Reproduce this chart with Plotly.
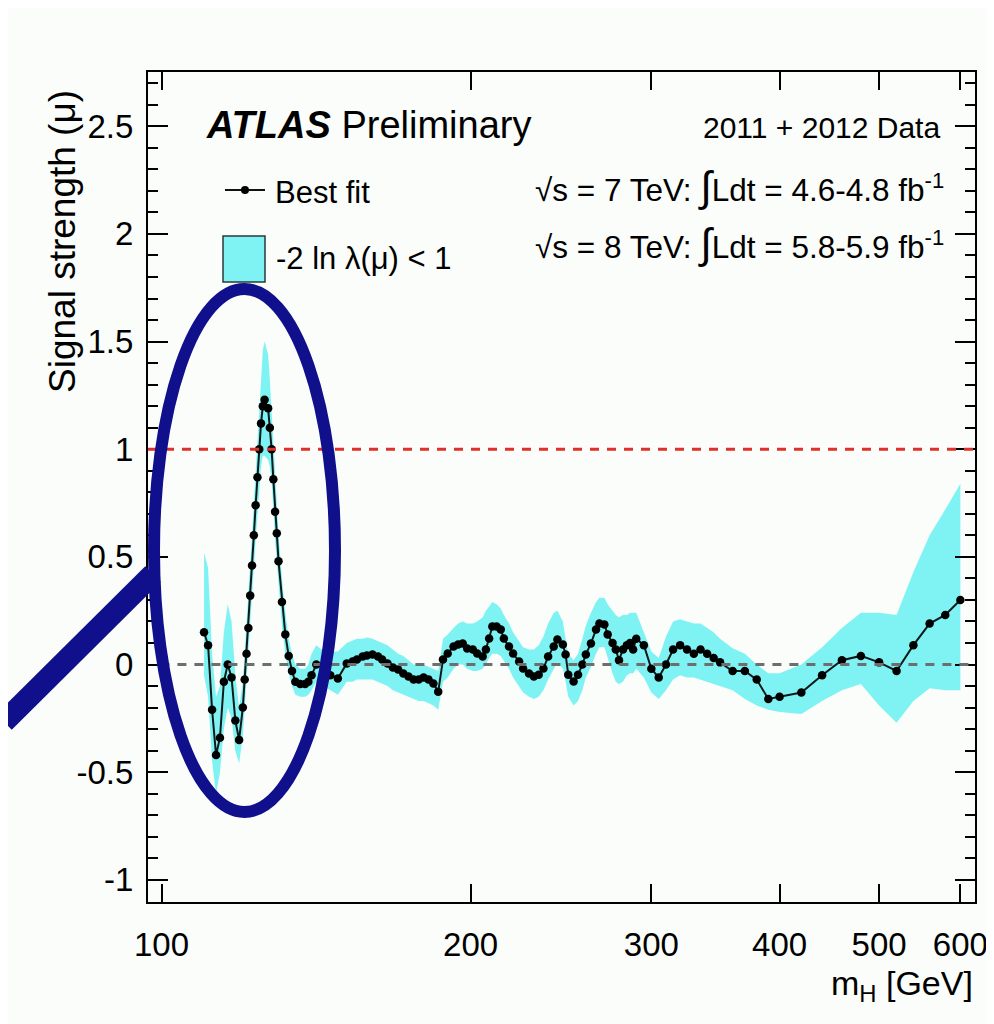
import plotly.graph_objects as go

FONT = "Liberation Sans"

mass = [110, 111, 112, 113, 114, 115, 116, 117, 118, 119, 120, 120.5, 121, 121.5, 122, 122.5,
        123, 123.5, 124, 124.5, 125, 125.5, 126, 127, 127.5, 128, 128.5, 129, 129.5, 130,
        131, 132, 133, 134, 135, 136.5, 138, 139, 140, 141.5, 144, 146, 148.5, 151.5, 153.5,
        155, 157, 158.5, 160.5, 162.5, 164, 166, 168, 170, 172, 174, 176, 178, 180, 182, 184,
        186, 188, 190, 192.5, 194.5, 196.5, 198.5, 201, 203, 205.5, 207, 208.5, 210, 212, 214,
        215.5, 218, 220, 223, 225, 228, 230.5, 233, 235.5, 238, 241, 243, 246, 247.5, 249, 252,
        254.5, 257, 259, 262, 265, 267, 270, 272, 275, 277, 279, 281.5, 284, 286, 288, 290,
        295, 300, 305, 310, 315, 320, 325, 330, 335, 340, 345, 350, 360, 370, 380, 390, 400,
        420, 440, 460, 480, 500, 520, 540, 560, 580, 600]

mu_best = [0.15, 0.09, -0.21, -0.42, -0.34, -0.08, 0.00, -0.06, -0.26, -0.35, -0.20, -0.07,
           0.05, 0.17, 0.32, 0.46, 0.60, 0.74, 0.87, 1.00, 1.12, 1.20, 1.23, 1.19, 1.10, 1.00,
           0.86, 0.71, 0.61, 0.48, 0.29, 0.14, 0.04, -0.03, -0.08, -0.09, -0.09, -0.08, -0.05,
           0.00, -0.02, -0.05, -0.065, 0.005, 0.014, 0.023, 0.037, 0.042, 0.047, 0.037, 0.023,
           0.005, -0.014, -0.023, -0.042, -0.056, -0.07, -0.07, -0.06, -0.07, -0.088, -0.126,
           0.023, 0.051, 0.084, 0.093, 0.098, 0.074, 0.07, 0.051, 0.037, 0.07, 0.121, 0.177,
           0.177, 0.163, 0.121, 0.084, 0.051, 0.014, -0.019, -0.042, -0.056, -0.047, -0.019,
           0.037, 0.084, 0.116, 0.093, 0.047, -0.047, -0.079, -0.047, 0.0, 0.047, 0.098, 0.163,
           0.19, 0.186, 0.14, 0.10, 0.07, 0.02, 0.07, 0.09, 0.10, 0.07, 0.12, 0.09, -0.02,
           -0.06, 0.0, 0.07, 0.09, 0.07, 0.05, 0.07, 0.05, 0.03, 0.01, -0.03, -0.03, -0.07,
           -0.16, -0.15, -0.13, -0.05, 0.02, 0.04, 0.01, -0.03, 0.09, 0.19, 0.23, 0.30]

band_lo = [-0.05, -0.15, -0.45, -0.60, -0.50, -0.30, -0.20, -0.25, -0.40, -0.46, -0.33, -0.20,
           -0.08, 0.04, 0.18, 0.32, 0.45, 0.58, 0.70, 0.82, 0.92, 0.97, 0.97, 0.95, 0.92, 0.85,
           0.72, 0.58, 0.48, 0.36, 0.18, 0.05, -0.04, -0.10, -0.14, -0.15, -0.15, -0.14, -0.12,
           -0.08, -0.10, -0.12, -0.14, -0.08, -0.08, -0.07, -0.07, -0.07, -0.07, -0.08, -0.09,
           -0.10, -0.12, -0.13, -0.14, -0.15, -0.16, -0.17, -0.17, -0.18, -0.19, -0.21,
           -0.08, -0.06, -0.02, 0.00, 0.00, -0.02, -0.03, -0.03, -0.02, 0.00, 0.03, 0.05,
           0.05, 0.04, 0.02, -0.02, -0.06, -0.10, -0.13, -0.15, -0.16, -0.15, -0.12,
           -0.07, -0.02, 0.01, -0.02, -0.08, -0.15, -0.19, -0.17, -0.12, -0.06, -0.01, 0.05,
           0.08, 0.08, 0.03, -0.04, -0.08, -0.09, -0.08, -0.05, -0.04, -0.04, -0.02, -0.06, -0.13,
           -0.16, -0.12, -0.07, -0.05, -0.06, -0.06, -0.07, -0.08, -0.09, -0.10, -0.12, -0.16, -0.19,
           -0.21, -0.22, -0.23, -0.17, -0.12, -0.09, -0.19, -0.27, -0.17, -0.11, -0.12, -0.12]

band_hi = [0.52, 0.45, 0.05, -0.15, -0.10, 0.15, 0.28, 0.20, -0.05, -0.20, -0.08, 0.05,
           0.18, 0.30, 0.46, 0.60, 0.75, 0.90, 1.05, 1.20, 1.36, 1.46, 1.50, 1.44, 1.32, 1.18,
           1.02, 0.86, 0.75, 0.61, 0.40, 0.24, 0.12, 0.05, 0.00, -0.02, -0.02, 0.00, 0.05,
           0.09, 0.06, 0.06, 0.06, 0.10, 0.11, 0.12, 0.12, 0.125, 0.12, 0.11, 0.10,
           0.09, 0.07, 0.05, 0.04, 0.02, 0.00, 0.00, 0.00, -0.01, -0.02, -0.03,
           0.12, 0.14, 0.17, 0.19, 0.20, 0.19, 0.19, 0.20, 0.22, 0.25, 0.27, 0.29,
           0.28, 0.26, 0.23, 0.19, 0.15, 0.11, 0.08, 0.07, 0.07, 0.09, 0.13,
           0.19, 0.24, 0.25, 0.20, 0.12, 0.05, 0.02, 0.05, 0.12, 0.18, 0.24, 0.29,
           0.31, 0.31, 0.28, 0.25, 0.23, 0.22, 0.23, 0.23, 0.24, 0.24, 0.24, 0.15, 0.06,
           0.03, 0.13, 0.20, 0.21, 0.20, 0.19, 0.19, 0.17, 0.15, 0.12, 0.075, 0.05, 0.00,
           -0.04, -0.04, 0.00, 0.08, 0.17, 0.24, 0.24, 0.23, 0.43, 0.60, 0.72, 0.84]

x_tick_vals = [100, 200, 300, 400, 500, 600]
x_tick_text = ["100", "200", "300", "400", "500", "600"]
y_tick_vals = [-1, -0.5, 0, 0.5, 1, 1.5, 2, 2.5]
y_tick_text = ["-1", "-0.5", "0", "0.5", "1", "1.5", "2", "2.5"]

# layout geometry (page pixels; the page body adds an 8px offset)
OFF = 8
W, H = 994 - OFF, 1024 - OFF
X0, X1, Y0, Y1 = 148, 975, 72, 902          # plot frame on the page
L, R, T, B = X0 - OFF, 994 - X1, Y0 - OFF, 1024 - Y1
PW, PH = X1 - X0, Y1 - Y0


def px(xp):
    return (xp - X0) / PW


def py(yp):
    return (Y1 - yp) / PH


fig = go.Figure()

fig.add_trace(go.Scatter(
    x=mass + mass[::-1], y=band_hi + band_lo[::-1],
    fill="toself", fillcolor="#7ff3f3", mode="lines",
    line=dict(width=0, color="#7ff3f3"),
    name="-2 ln λ(μ) < 1", hoverinfo="skip", showlegend=False))

fig.add_trace(go.Scatter(
    x=mass, y=mu_best, mode="lines+markers",
    line=dict(color="#0d1a1a", width=2),
    marker=dict(color="#000000", size=8.5),
    name="Best fit", showlegend=False))

# reference lines at mu = 1 and mu = 0
fig.add_shape(type="line", xref="paper", x0=0, x1=1, yref="y", y0=1, y1=1,
              line=dict(color="#e0302a", width=3, dash="9px,8px"), layer="above")
fig.add_shape(type="line", xref="paper", x0=0.015, x1=1, yref="y", y0=0, y1=0,
              line=dict(color="#6e6e6e", width=3, dash="9px,8px"), layer="above")

# manual legend
fig.add_shape(type="line", xref="paper", yref="paper", x0=px(225), x1=px(265),
              y0=py(190), y1=py(190), line=dict(color="#111111", width=2))
fig.add_shape(type="circle", xref="paper", yref="paper", x0=px(241), x1=px(249),
              y0=py(194), y1=py(186), fillcolor="black", line=dict(color="black", width=0))
fig.add_shape(type="rect", xref="paper", yref="paper", x0=px(223), x1=px(265),
              y0=py(282), y1=py(236), fillcolor="#7ff3f3",
              line=dict(color="#2a3a3a", width=1.5))
fig.add_annotation(xref="paper", yref="paper", x=px(273), y=py(193), xanchor="left",
                   yanchor="middle", showarrow=False, text="Best fit",
                   font=dict(family=FONT, size=31, color="black"))
fig.add_annotation(xref="paper", yref="paper", x=px(274), y=py(258), xanchor="left",
                   yanchor="middle", showarrow=False, text="-2 ln λ(μ) < 1",
                   font=dict(family=FONT, size=31, color="black"))

# highlight ellipse and pointer
NAVY = "#10108c"
fig.add_shape(type="circle", xref="paper", yref="paper",
              x0=px(154), x1=px(335), y0=py(812), y1=py(289),
              line=dict(color=NAVY, width=12), layer="above")
fig.add_shape(type="line", xref="paper", yref="paper",
              x0=px(4), y0=py(722), x1=px(153), y1=py(574),
              line=dict(color=NAVY, width=22), layer="above")

# texts
fig.add_annotation(xref="paper", yref="paper", x=px(204), y=py(125), xanchor="left",
                   yanchor="middle", showarrow=False,
                   text="<b><i>ATLAS</i></b> Preliminary",
                   font=dict(family=FONT, size=38, color="black"))
fig.add_annotation(xref="paper", yref="paper", x=px(942), y=py(127), xanchor="right",
                   yanchor="middle", showarrow=False, text="2011 + 2012 Data",
                   font=dict(family=FONT, size=30, color="black"))
fig.add_annotation(xref="paper", yref="paper", x=px(946), y=py(186), xanchor="right",
                   yanchor="middle", showarrow=False,
                   text="√s = 7 TeV: <span style='font-size:42px'>∫</span>Ldt = 4.6-4.8 fb<sup>-1</sup>",
                   font=dict(family=FONT, size=31.5, color="black"))
fig.add_annotation(xref="paper", yref="paper", x=px(946), y=py(243), xanchor="right",
                   yanchor="middle", showarrow=False,
                   text="√s = 8 TeV: <span style='font-size:42px'>∫</span>Ldt = 5.8-5.9 fb<sup>-1</sup>",
                   font=dict(family=FONT, size=31.5, color="black"))

# axis titles
fig.add_annotation(xref="paper", yref="paper", x=px(62), y=py(242), xanchor="center",
                   yanchor="middle", showarrow=False, textangle=-90,
                   text="Signal strength (μ)",
                   font=dict(family=FONT, size=37, color="black"))
fig.add_annotation(xref="paper", yref="paper", x=1, y=py(985), xanchor="right",
                   yanchor="middle", showarrow=False,
                   text="m<sub>H</sub> [GeV]",
                   font=dict(family=FONT, size=34, color="black"))

fig.update_layout(
    width=W, height=H,
    margin=dict(l=L, r=R, t=T, b=B, autoexpand=False),
    paper_bgcolor="#fafdfa", plot_bgcolor="#fafdfa",
    font=dict(family=FONT, size=31, color="black"),
    showlegend=False,
)

fig.update_xaxes(type="log", range=[1.9868, 2.7924],
                 tickvals=x_tick_vals, ticktext=x_tick_text, tickangle=0,
                 ticks="inside", ticklen=18, tickwidth=1.5, tickcolor="black",
                 showline=True, linewidth=2, linecolor="black", mirror="allticks",
                 showgrid=False, zeroline=False, ticklabelstandoff=12,
                 tickfont=dict(family=FONT, size=33, color="black"))
fig.update_yaxes(range=[-1.103, 2.752],
                 tickvals=y_tick_vals, ticktext=y_tick_text,
                 ticks="inside", ticklen=20, tickwidth=1.5, tickcolor="black",
                 minor=dict(dtick=0.1, ticklen=10, ticks="inside", tickcolor="black",
                            tickwidth=1.5, showgrid=False),
                 showline=True, linewidth=2, linecolor="black", mirror="allticks",
                 showgrid=False, zeroline=False, ticklabelstandoff=6,
                 tickfont=dict(family=FONT, size=33, color="black"))

fig.write_html("out.html")
